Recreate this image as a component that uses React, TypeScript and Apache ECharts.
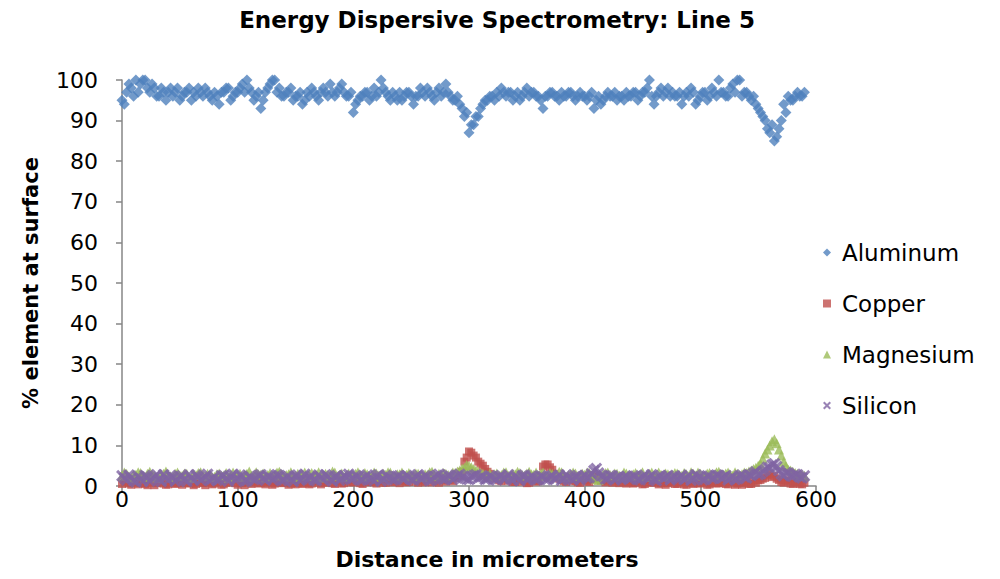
import React, { useEffect, useRef } from "react";
import * as echarts from "echarts";

const distances = [
  0, 2, 4, 6, 8, 10, 12, 14, 16, 18, 20, 22, 24, 26, 28, 30, 32, 34, 36, 38,
  40, 42, 44, 46, 48, 50, 52, 54, 56, 58, 60, 62, 64, 66, 68, 70, 72, 74, 76, 78,
  80, 82, 84, 86, 88, 90, 92, 94, 96, 98, 100, 102, 104, 106, 108, 110, 112, 114, 116, 118,
  120, 122, 124, 126, 128, 130, 132, 134, 136, 138, 140, 142, 144, 146, 148, 150, 152, 154, 156, 158,
  160, 162, 164, 166, 168, 170, 172, 174, 176, 178, 180, 182, 184, 186, 188, 190, 192, 194, 196, 198,
  200, 202, 204, 206, 208, 210, 212, 214, 216, 218, 220, 222, 224, 226, 228, 230, 232, 234, 236, 238,
  240, 242, 244, 246, 248, 250, 252, 254, 256, 258, 260, 262, 264, 266, 268, 270, 272, 274, 276, 278,
  280, 282, 284, 286, 288, 290, 292, 294, 296, 298, 300, 302, 304, 306, 308, 310, 312, 314, 316, 318,
  320, 322, 324, 326, 328, 330, 332, 334, 336, 338, 340, 342, 344, 346, 348, 350, 352, 354, 356, 358,
  360, 362, 364, 366, 368, 370, 372, 374, 376, 378, 380, 382, 384, 386, 388, 390, 392, 394, 396, 398,
  400, 402, 404, 406, 408, 410, 412, 414, 416, 418, 420, 422, 424, 426, 428, 430, 432, 434, 436, 438,
  440, 442, 444, 446, 448, 450, 452, 454, 456, 458, 460, 462, 464, 466, 468, 470, 472, 474, 476, 478,
  480, 482, 484, 486, 488, 490, 492, 494, 496, 498, 500, 502, 504, 506, 508, 510, 512, 514, 516, 518,
  520, 522, 524, 526, 528, 530, 532, 534, 536, 538, 540, 542, 544, 546, 548, 550, 552, 554, 556, 558,
  560, 562, 564, 566, 568, 570, 572, 574, 576, 578, 580, 582, 584, 586, 588, 590,
];

const aluminum = [
  95, 94, 97, 99, 98, 96, 100, 97, 99, 100, 100, 98, 97, 99, 98, 96, 96, 98, 97, 95,
  97, 98, 96, 97, 98, 95, 96, 97, 97, 98, 95, 97, 96, 98, 97, 96, 98, 97, 96, 95,
  97, 96, 94, 97, 97, 98, 98, 95, 96, 97, 97, 98, 99, 97, 100, 98, 97, 95, 96, 97,
  93, 95, 97, 98, 99, 100, 100, 97, 98, 96, 96, 97, 97, 98, 95, 96, 96, 97, 94, 95,
  97, 96, 98, 97, 96, 95, 97, 98, 97, 96, 99, 97, 96, 97, 98, 99, 97, 96, 96, 97,
  92, 94, 95, 96, 96, 97, 97, 95, 96, 98, 96, 97, 100, 98, 97, 96, 95, 97, 96, 95,
  97, 95, 96, 97, 97, 96, 94, 96, 96, 98, 97, 96, 98, 97, 96, 95, 97, 98, 96, 97,
  99, 97, 96, 95, 95, 96, 94, 93, 91, 92, 87, 89, 89, 91, 91, 93, 94, 95, 95, 96,
  96, 95, 97, 96, 98, 97, 96, 97, 97, 95, 96, 97, 95, 96, 97, 98, 96, 97, 97, 96,
  96, 95, 93, 96, 96, 97, 97, 96, 96, 95, 97, 96, 96, 97, 97, 96, 95, 96, 97, 96,
  96, 95, 96, 97, 93, 95, 96, 94, 95, 96, 97, 96, 96, 97, 95, 96, 96, 95, 97, 96,
  96, 97, 97, 95, 96, 97, 97, 98, 100, 96, 94, 96, 97, 98, 96, 97, 98, 96, 97, 96,
  96, 97, 94, 96, 97, 96, 98, 97, 94, 95, 96, 97, 97, 95, 96, 98, 97, 96, 100, 97,
  97, 96, 96, 98, 99, 97, 100, 100, 96, 97, 97, 96, 95, 96, 94, 93, 92, 91, 90, 88,
  87, 89, 85, 86, 88, 90, 94, 92, 96, 95, 95, 96, 97, 96, 96, 97,
];

const copper = [
  0.5, 1.3, 1, 0.6, 0.3, 0.9, 1.2, 0.4, 0.8, 1.4, 0.5, 0.2, 1.5, 0.9, 0.2, 0.7, 1, 1.3, 0.6, 0.3,
  0.4, 0.9, 1.1, 0.5, 0.7, 1.2, 0.3, 0.8, 1.3, 0.6, 0.8, 0.2, 0.5, 1.1, 1, 0.7, 0.2, 1.2, 0.9, 0.4,
  0.6, 1, 1.2, 0.3, 0.4, 0.8, 0.9, 1.4, 1.5, 0.7, 0.3, 1, 0.7, 0.2, 1, 1.1, 0.5, 0.9, 1.3, 0.6,
  0.8, 1.2, 0.4, 0.9, 1.1, 0.3, 0.6, 1, 1.4, 0.7, 0.9, 1.3, 0.3, 0.6, 1.2, 0.4, 0.7, 1.1, 0.5, 0.8,
  1, 0.4, 0.6, 1.2, 1.3, 0.8, 0.4, 0.9, 0.8, 1.5, 1.6, 0.7, 0.5, 1.2, 1.1, 0.6, 0.7, 1.3, 1.4, 0.9,
  0.9, 1.5, 1.2, 0.7, 0.5, 1.1, 1.8, 0.9, 1, 1.4, 0.6, 1.2, 1.3, 0.8, 0.8, 1.7, 1.5, 0.9, 1.1, 1.6,
  0.7, 1.2, 1.4, 0.9, 1, 1.8, 2.2, 1.1, 0.8, 1.5, 1.2, 0.9, 1.6, 2.4, 0.9, 1.3, 1.3, 0.8, 2, 1.4,
  1.1, 1.6, 1.5, 1.2, 2, 2.8, 2.5, 3.5, 6, 7, 8.5, 8.2, 7.5, 7, 6, 5.5, 5, 4.2, 3.5, 3,
  2.5, 2, 1.8, 1.4, 1.2, 1.9, 2, 1.3, 1.5, 1, 1, 1.6, 1.8, 1.1, 1.2, 0.7, 0.8, 1.4, 1.5, 1.1,
  1.2, 2.5, 4.8, 5.3, 5.3, 4.6, 4, 3, 2.5, 1.8, 1.5, 1.2, 1, 1.6, 1.8, 1.3, 1.2, 0.9, 0.8, 1.4,
  1.4, 1.1, 1, 1.6, 1.8, 2.4, 2.2, 1.3, 1.5, 0.9, 1.2, 1.7, 0.8, 1.1, 1.6, 0.7, 1, 1.4, 0.6, 0.9,
  1.3, 0.6, 0.8, 1.2, 1.1, 0.4, 0.5, 1, 1.5, 0.8, 0.9, 1.3, 0.4, 0.7, 1.2, 0.3, 0.7, 1.1, 1, 0.5,
  0.5, 0.9, 1.1, 0.4, 0.3, 1, 0.8, 0.5, 1.3, 0.7, 0.6, 1.2, 0.9, 0.3, 0.4, 0.8, 1.2, 0.6, 0.7, 1.1,
  0.9, 0.5, 0.4, 1.1, 1, 0.3, 0.6, 0.9, 0.3, 0.8, 1.2, 0.5, 0.5, 1.3, 0.8, 1.4, 1.5, 1.8, 2, 2.6,
  3, 2.2, 2.5, 1.8, 1.5, 1, 0.8, 1.4, 1.2, 0.6, 0.5, 1.1, 0.9, 0.5, 0.4, 0.8,
];

const magnesium = [
  2.5, 3.3, 3, 2.4, 2, 2.7, 2.8, 3.4, 3.2, 2.5, 2.2, 3, 3.5, 2.9, 2.6, 2.1, 2, 2.8, 3, 3.6,
  2.8, 2.4, 2.2, 3, 3.3, 2.6, 2.5, 3.1, 3, 2.3, 2, 2.9, 2.7, 3.2, 3.4, 2.6, 2.4, 3, 2.9, 2.2,
  2.3, 2.9, 3.1, 2.5, 2.6, 3.2, 2, 2.7, 3.3, 2.4, 2.7, 3, 2.2, 2.8, 3, 3.6, 2.5, 2.2, 3.4, 2.9,
  2.8, 3.1, 2.1, 2.7, 3.2, 2.4, 2.6, 3.3, 3.5, 2.9, 2.3, 2.7, 2.9, 3.4, 2.2, 2.5, 3, 2.8, 2.6, 3.3,
  2.4, 2.9, 3.2, 2.6, 2.7, 3.4, 2.1, 2.5, 3, 2.8, 2.5, 3.6, 3.3, 2.4, 2.8, 3.1, 2.2, 2.7, 3.1, 2.6,
  2.6, 3, 3.4, 2.7, 2.2, 3.2, 2.9, 2.4, 2.5, 3.3, 3.1, 2.6, 2.3, 3, 2.8, 3.4, 3.3, 2.5, 2.4, 2.9,
  2.9, 3.3, 2.3, 2.8, 3.2, 2.5, 2.6, 3.1, 3, 2.4, 2.2, 2.9, 2.8, 3.4, 3.5, 2.7, 2.4, 3, 2.7, 3.2,
  3, 2.7, 2.5, 3.3, 3.2, 3.6, 3.8, 4.3, 4.5, 5.2, 5, 4.6, 4.2, 3.8, 3.6, 3.2, 3, 2.8, 2.6, 3.1,
  2.4, 2.9, 3.1, 2.6, 2.7, 3.3, 3.4, 2.5, 2.3, 3, 2.9, 3.5, 3.2, 2.7, 2.5, 3.1, 3.5, 2.9, 2.8, 3.3,
  2.6, 3.1, 3.3, 2.5, 2.4, 3.2, 3, 2.6, 2.7, 3.5, 3.4, 2.8, 2.2, 2.7, 2.9, 3.3, 3.1, 2.4, 2.5, 3,
  2.8, 3.3, 3.2, 2.6, 2.3, 1.8, 1.5, 2.4, 2.9, 3.2, 3.3, 2.7, 2.6, 3.1, 3, 2.5, 2.4, 3.3, 3.1, 2.6,
  2.5, 2.9, 3.2, 2.6, 2.8, 3.4, 2.2, 2.7, 3, 3.3, 2.6, 2.3, 3.3, 2.8, 2.4, 3.1, 2.9, 2.5, 2.7, 3.2,
  3.1, 2.7, 2.5, 3.2, 2.9, 2.4, 3.4, 3, 2.6, 3.3, 3, 2.5, 2.3, 3.1, 3.2, 2.7, 2.8, 3.4, 3.5, 2.9,
  2.7, 3.1, 3.3, 2.8, 2.6, 3.4, 3, 2.7, 2.9, 3.3, 3.2, 3.6, 3.8, 4.2, 4.5, 5, 5.5, 6.8, 8, 9,
  10, 11, 11.5, 10.5, 9, 7.5, 6, 5, 4, 3.8, 3.5, 3.2, 3, 2.6, 2.8, 2.5,
];

const silicon = [
  2.5, 2, 1.5, 2.7, 2, 1.3, 1, 2.4, 1.8, 1.2, 2.6, 2.2, 1.2, 1.9, 2.2, 2.8, 1.6, 1.1, 2.8, 2.1,
  1.4, 2.6, 2.1, 1.2, 1.7, 2.3, 2.5, 1.6, 1.1, 2.8, 2, 1.4, 2.7, 2.2, 1.5, 1.9, 2.3, 2.9, 1.3, 1.8,
  2.2, 1.4, 1.6, 2.5, 2.6, 1.9, 1.2, 2.2, 2.9, 1.5, 1.8, 2.7, 2.4, 1.1, 1.3, 2.3, 2, 1.6, 1.7, 2.6,
  2.8, 1.9, 1.4, 2.4, 2.2, 1.6, 1.9, 2.8, 2.6, 1.3, 1.5, 2.2, 2.3, 1.7, 1.1, 2.5, 2.7, 1.4, 1.8, 2.9,
  1.6, 2.2, 2.4, 1.5, 1.3, 2.7, 2.1, 1.6, 2.8, 2.3, 1.7, 1.2, 2.2, 2.6, 1.4, 1.9, 2.5, 2.1, 2.9, 1.6,
  1.9, 2.6, 2.3, 1.4, 1.5, 2.2, 2.7, 1.9, 1.8, 1.3, 2.4, 2.8, 1.2, 1.7, 2.6, 2.3, 2, 1.5, 1.6, 2.4,
  2.5, 1.9, 1.7, 2.6, 2.2, 1.6, 1.4, 2.3, 2.8, 1.8, 1.9, 2.5, 2.3, 1.3, 1.5, 2.2, 2.6, 2.9, 2, 1.6,
  1.8, 2.7, 2.4, 1.6, 2.1, 2.5, 2.9, 2.3, 2, 1.7, 1.6, 2.4, 2.5, 2.8, 1.9, 2.2, 2.3, 1.6, 1.7, 2.5,
  2.2, 1.7, 1.5, 2.3, 2.6, 1.9, 2, 2.8, 1.8, 1.4, 2.4, 2.1, 1.3, 2.5, 2.7, 1.6, 1.9, 2.4, 2.1, 1.5,
  1.7, 2.5, 2.3, 1.6, 1.6, 2.2, 2.5, 1.8, 2, 2.7, 1.4, 1.9, 2.8, 2.1, 1.9, 1.5, 2.2, 2.6, 1.5, 2.2,
  2.6, 2, 2.1, 3, 3.8, 4.3, 3.2, 2.5, 2.4, 1.7, 1.8, 2.6, 2.5, 1.5, 2, 2.4, 1.6, 2.1, 2.3, 1.8,
  1.9, 2.5, 2.4, 1.6, 1.5, 2.2, 2.7, 1.9, 2.1, 2.8, 1.6, 1.3, 2.3, 2.5, 1.8, 2.2, 2.6, 1.5, 2, 2.4,
  1.7, 2.2, 2.5, 1.6, 2, 2.7, 1.4, 1.9, 2.8, 2.3, 2.2, 1.5, 1.6, 2.5, 2.4, 1.8, 1.9, 2.7, 2.6, 2,
  2.1, 2.6, 1.5, 2, 2.3, 1.6, 1.8, 2.5, 2.7, 2.2, 2, 2.8, 2.6, 3.1, 3.5, 2.8, 3, 3.6, 4, 4.6,
  4.5, 5.2, 5.5, 4.8, 3.8, 3, 2.5, 3.3, 3.2, 2.6, 2.4, 2.9, 2.8, 2.2, 2, 2.5,
];

const seriesNames = ["Aluminum", "Copper", "Magnesium", "Silicon"];
const xTicks = { min: 0, max: 600, interval: 100 };
const yTicks = { min: 0, max: 100, interval: 10 };

const FONT = "'DejaVu Sans', 'Liberation Sans', Arial, sans-serif";
const CROSS = "path://M0,1.8L1.8,0L5,3.2L8.2,0L10,1.8L6.8,5L10,8.2L8.2,10L5,6.8L1.8,10L0,8.2L3.2,5Z";
const AXIS_GRAY = "#868686";

export default function App() {
  const ref = useRef<HTMLDivElement>(null);
  useEffect(() => {
    if (!ref.current) return;
    const chart = echarts.init(ref.current, undefined, { renderer: "svg" });
    const pairs = (vals: number[]) => distances.map((d, i) => [d, vals[i]]);
    chart.setOption({
      animation: false,
      textStyle: { fontFamily: FONT },
      title: {
        text: "Energy Dispersive Spectrometry: Line 5",
        left: 489,
        textAlign: "center",
        top: 0,
        padding: 0,
        textStyle: { fontFamily: FONT, fontSize: 23, fontWeight: "bold", color: "#000" },
      },
      legend: {
        orient: "vertical",
        left: 810,
        top: 228,
        itemGap: 28,
        itemWidth: 8,
        itemHeight: 8,
        data: seriesNames,
        textStyle: { fontFamily: FONT, fontSize: 23, color: "#000", padding: [0, 0, 0, 6] },
      },
      grid: { left: 114, right: 192, top: 72, bottom: 101 },
      xAxis: {
        type: "value",
        min: xTicks.min,
        max: xTicks.max,
        interval: xTicks.interval,
        name: "Distance in micrometers",
        nameLocation: "middle",
        nameGap: 62,
        nameTextStyle: {
          fontFamily: FONT,
          fontSize: 22,
          fontWeight: "bold",
          color: "#000",
          padding: [0, 0, 0, 36],
        },
        axisLine: { lineStyle: { color: AXIS_GRAY, width: 1.5 } },
        axisTick: { show: true, length: 6, lineStyle: { color: AXIS_GRAY, width: 1.5 } },
        axisLabel: { fontFamily: FONT, fontSize: 22, color: "#000", margin: 2 },
        splitLine: { show: false },
      },
      yAxis: {
        type: "value",
        min: yTicks.min,
        max: yTicks.max,
        interval: yTicks.interval,
        name: "% element at surface",
        nameLocation: "middle",
        nameRotate: 90,
        nameGap: 81,
        nameTextStyle: { fontFamily: FONT, fontSize: 21, fontWeight: "bold", color: "#000" },
        axisLine: { show: true, lineStyle: { color: AXIS_GRAY, width: 1.5 } },
        axisTick: { show: true, length: 6, lineStyle: { color: AXIS_GRAY, width: 1.5 } },
        axisLabel: { fontFamily: FONT, fontSize: 22, color: "#000", margin: 24 },
        splitLine: { show: false },
      },
      series: [
        {
          name: "Aluminum",
          type: "scatter",
          data: pairs(aluminum),
          symbol: "diamond",
          symbolSize: 11,
          itemStyle: { color: "#4F81BD" },
        },
        {
          name: "Copper",
          type: "scatter",
          data: pairs(copper),
          symbol: "rect",
          symbolSize: 8,
          itemStyle: { color: "#C0504D" },
        },
        {
          name: "Magnesium",
          type: "scatter",
          data: pairs(magnesium),
          symbol: "triangle",
          symbolSize: 10,
          itemStyle: { color: "#9BBB59" },
        },
        {
          name: "Silicon",
          type: "scatter",
          data: pairs(silicon),
          symbol: CROSS,
          symbolSize: 12,
          itemStyle: { color: "#8064A2" },
        },
      ],
    });
    return () => chart.dispose();
  }, []);
  return <div ref={ref} style={{ width: 1000, height: 579 }} />;
}
